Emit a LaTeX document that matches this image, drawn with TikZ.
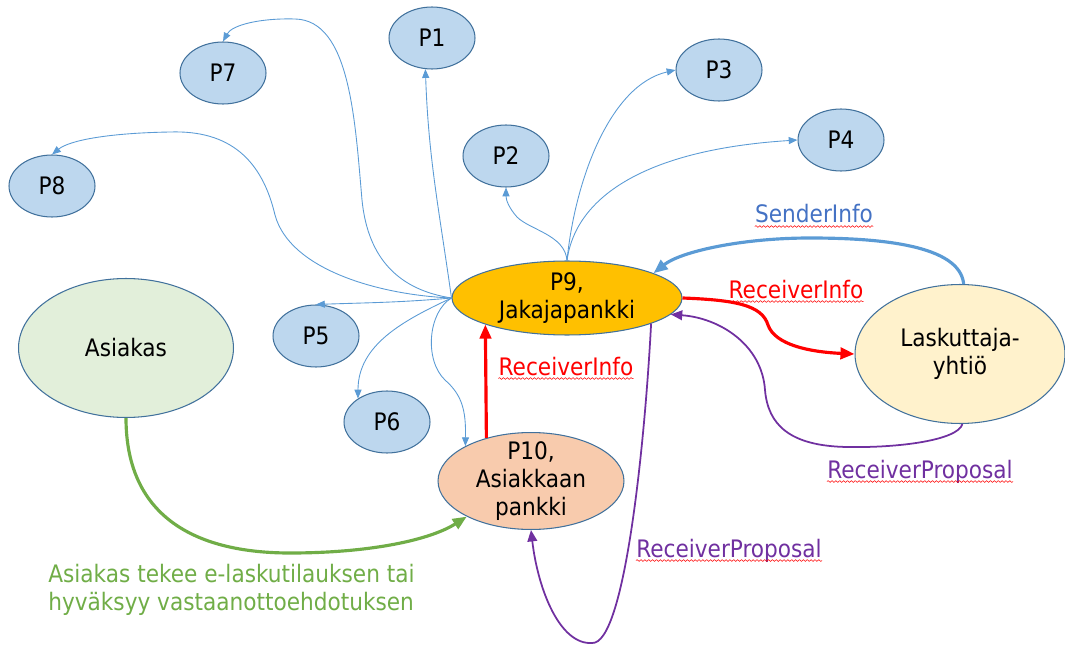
\documentclass[tikz,border=0pt]{standalone}
\usepackage{fontspec}
\setmainfont{DejaVu Sans Condensed}
\usetikzlibrary{shapes.geometric, arrows.meta, positioning, decorations.pathmorphing}
\definecolor{nodeblue}{HTML}{BDD7EE}
\definecolor{rimblue}{HTML}{41719C}
\definecolor{lineblue}{HTML}{5B9BD5}
\definecolor{textblue}{HTML}{4472C4}
\definecolor{bankyellow}{HTML}{FFC000}
\definecolor{bankorange}{HTML}{F8CBAD}
\definecolor{custgreen}{HTML}{E2EFDA}
\definecolor{billyellow}{HTML}{FFF2CC}
\definecolor{arrowgreen}{HTML}{70AD47}
\definecolor{propviolet}{HTML}{7030A0}

\begin{document}
\begin{tikzpicture}[>={Triangle[length=8pt,width=6.5pt]}, x=0.02cm, y=-0.02cm,
    every node/.style={font=\fontsize{13.7}{16}\selectfont},
    main node/.style={ellipse, draw=rimblue, line width=0.6pt, inner sep=0pt, align=center},
    p node/.style={main node, fill=nodeblue, minimum width=1.72cm, minimum height=1.24cm},
    fan/.style={-{Triangle[length=5pt,width=4pt]}, color=lineblue, line width=0.5pt},
    msg/.style={->, line width=1.8pt},
    proposal/.style={-{Triangle[length=6.5pt,width=5.5pt]}, color=propviolet, line width=1pt},
    label node/.style={inner sep=0pt, anchor=base},
    spell/.style={draw=red, line width=0.3pt, decorate, decoration={snake, amplitude=0.5pt, segment length=2.2pt}}]

        \useasboundingbox (0,0) rectangle (1065,645);

        \node[p node] (1) at (432,38) {P1};
        \node[p node] (2) at (506,156) {P2};
        \node[p node] (3) at (719,70) {P3};
        \node[p node] (4) at (841,140) {P4};
        \node[p node] (5) at (316,336) {P5};
        \node[p node] (6) at (387,422) {P6};
        \node[p node] (7) at (223,73) {P7};
        \node[p node] (8) at (52,186) {P8};
        \node[main node, fill=bankyellow, minimum width=4.6cm, minimum height=1.48cm] (9) at (567,298) {P9,\\Jakajapankki};
        \node[main node, fill=bankorange, minimum width=3.72cm, minimum height=1.92cm, inner ysep=-3pt] (10) at (531,481) {P10,\\Asiakkaan\\pankki};
        \node[main node, fill=custgreen, minimum width=4.3cm, minimum height=2.78cm] (a) at (126,348) {Asiakas};
        \node[main node, fill=billyellow, minimum width=4.2cm, minimum height=2.78cm] (l) at (960,354) {Laskuttaja-\\yhtiö};

        % P9 out to the banks
        \path[fan]
            (9.west) edge[out=98, in=-88] (1.258)
            (9.west) edge[out=185, in=2] (5.north)
            (9.west) edge[out=205, in=90] (6.141);
        \draw[fan] (9.west) .. controls (400,290) and (368,260) .. (362,200)
            .. controls (355,120) and (350,20) .. (295,19)
            .. controls (260,18) and (232,25) .. (7.north);
        \draw[fan] (9.west) .. controls (380,295) and (290,270) .. (275,215)
            .. controls (262,160) and (230,130) .. (170,132)
            .. controls (110,133) and (70,140) .. (8.north);
        \draw[fan] (9.west) .. controls (428,312) and (424,360) .. (445,380)
            .. controls (462,395) and (466,410) .. (10.152);
        \draw[fan] (9.north) .. controls (565,235) and (530,230) .. (517,217)
            .. controls (509,208) and (506,200) .. (2.south);
        \draw[fan] (9.north) .. controls (575,180) and (610,85) .. (3.west);
        \draw[fan] (9.north) .. controls (575,200) and (640,150) .. (4.west);

        % messages
        \draw[msg, lineblue] (l.87) .. controls (960,245) and (880,238) .. (810,238)
            .. controls (740,238) and (680,252) .. (9.16);
        \draw[msg, red] (9.east) .. controls (735,300) and (762,305) .. (768,325)
            .. controls (775,345) and (810,352) .. (l.west);
        \path[msg, red] (10.136) edge (9.198);
        \draw[proposal] (l.-88) .. controls (958,440) and (900,448) .. (847,447)
            .. controls (790,446) and (768,425) .. (765,390)
            .. controls (762,345) and (720,318) .. (9.-9);
        \draw[proposal] (9.-17) .. controls (645,440) and (625,645) .. (592,643)
            .. controls (560,645) and (538,590) .. (10.south);
        \draw[msg, arrowgreen] (a.south) .. controls (126,520) and (200,553) .. (290,553)
            .. controls (370,553) and (430,540) .. (10.209);

        % labels
        \node[label node, text=textblue] (s) at (814,223) {SenderInfo};
        \node[label node, text=red] (r1) at (796,298) {ReceiverInfo};
        \node[label node, text=red] (r2) at (566,375) {ReceiverInfo};
        \node[label node, text=propviolet] (q1) at (920,478) {ReceiverProposal};
        \node[label node, text=propviolet] (q2) at (729,557) {ReceiverProposal};
        \node[text=arrowgreen, align=left, anchor=west, inner sep=0pt] (g) at (48,590)
            {Asiakas tekee e-laskutilauksen tai\\hyväksyy vastaanottoehdotuksen};

        \draw[spell] ([yshift=-2pt]s.base west) -- ([yshift=-2pt]s.base east);
        \draw[spell] ([yshift=-2pt]r1.base west) -- ([yshift=-2pt]r1.base east);
        \draw[spell] ([yshift=-2pt]r2.base west) -- ([yshift=-2pt]r2.base east);
        \draw[spell] ([yshift=-2pt]q1.base west) -- ([yshift=-2pt]q1.base east);
        \draw[spell] ([yshift=-2pt]q2.base west) -- ([yshift=-2pt]q2.base east);
\end{tikzpicture}
\end{document}
